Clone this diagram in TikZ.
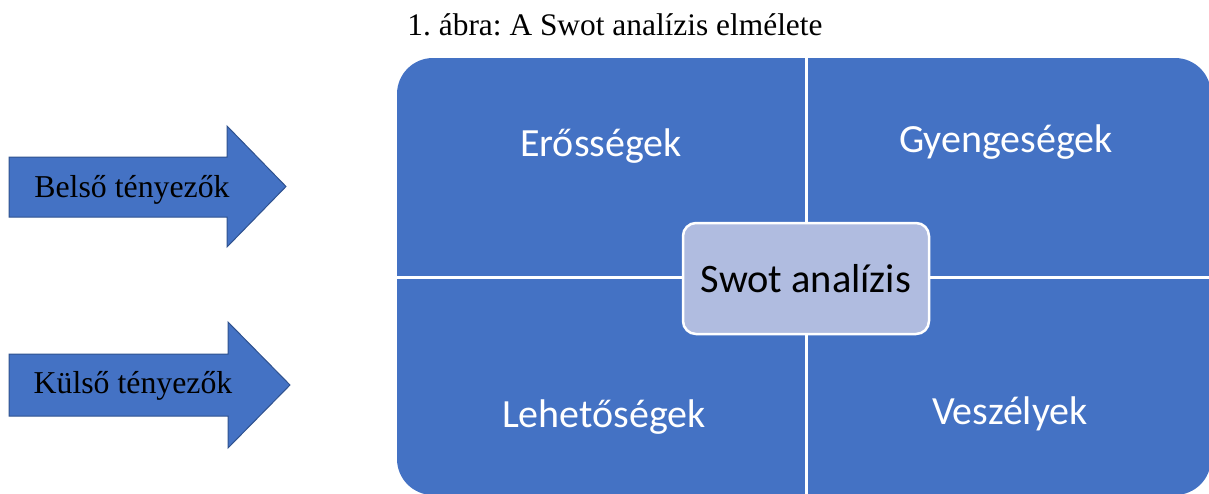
\documentclass[tikz,border=0pt]{standalone}
\usepackage{fontspec}
\setmainfont{Liberation Serif}
\newfontfamily\calib{Carlito}
\frenchspacing
\usetikzlibrary{calc}
\definecolor{swotblue}{HTML}{4472C4}
\definecolor{swotedge}{HTML}{2F528F}
\definecolor{swotlight}{HTML}{B0BCE0}
\tikzset{
 bigarrow/.style={fill=swotblue,draw=swotedge,line width=1pt,line join=miter},
 arrowlabel/.style={font=\fontsize{31.8}{36}\selectfont,inner sep=0},
 quadrant/.style={fill=swotblue,rounded corners=36pt},
 divider/.style={draw=white,line width=3pt},
 quadlabel/.style={font=\calib\fontsize{40}{46}\selectfont,text=white,inner sep=0},
 centrebox/.style={fill=swotlight,draw=white,line width=2.5pt,rounded corners=13pt,minimum width=246pt,minimum height=111pt,font=\calib\fontsize{40.4}{46}\selectfont,inner sep=0},
 caption/.style={font=\fontsize{31.4}{36}\selectfont,inner sep=0}
}
\begin{document}
\begin{tikzpicture}[x=1pt,y=-1pt]
\path[use as bounding box] (0,0) rectangle (1209,493);
\node[caption] (title) at (615,25) {1. ábra: A Swot analízis elmélete};
% matrix
\coordinate (NW) at (397,58);
\coordinate (SE) at (1211,495);
\path[quadrant] (NW) rectangle (SE);
\draw[divider] (806,58) -- (806,495);
\draw[divider] (397,277) -- (1211,277);
\node[quadlabel] (S) at (601,146) {Erősségek};
\node[quadlabel] (W) at (1006,142) {Gyengeségek};
\node[quadlabel] (O) at (604,417) {Lehetőségek};
\node[quadlabel] (T) at (1010,414) {Veszélyek};
\node[centrebox] (swot) at (806,278.5) {Swot analízis};
% arrows
\draw[bigarrow] (9,157) -- (227,157) -- (227,126) -- (286,186.5) -- (227,247) -- (227,217) -- (9,217) -- cycle;
\node[arrowlabel] (belso) at (132,190) {Belső tényezők};
\draw[bigarrow] (9,354) -- (228,354) -- (228,322) -- (290,385) -- (228,448) -- (228,416) -- (9,416) -- cycle;
\node[arrowlabel] (kulso) at (133,386) {Külső tényezők};
\end{tikzpicture}
\end{document}
